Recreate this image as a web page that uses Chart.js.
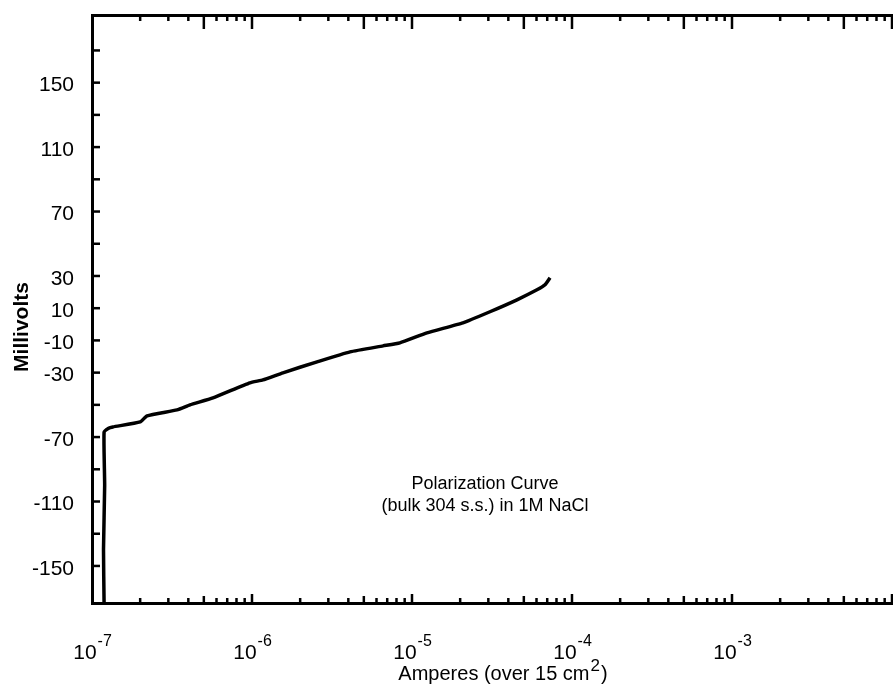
<!DOCTYPE html>
<html>
<head>
<meta charset="utf-8">
<script src="https://cdn.jsdelivr.net/npm/chart.js@4.4.1/dist/chart.umd.min.js"></script>
<style>
  html, body { margin: 0; padding: 0; background: #fff; overflow: hidden; }
  #wrap { width: 893px; height: 686px; position: relative; }
</style>
</head>
<body>
<div id="wrap"><canvas id="polChart"></canvas></div>
<script>
// polarization curve
var currentAmps = [1.19e-7, 1.18e-7, 1.20e-7, 1.19e-7, 1.27e-7, 1.35e-7, 2.0e-7, 2.21e-7, 3.4e-7, 4.1e-7, 5.7e-7,
                   9.7e-7, 1.17e-6, 1.56e-6, 2.55e-6, 4.1e-6, 6.6e-6, 8.4e-6, 1.24e-5, 2.08e-5, 3.07e-5,
                   4.53e-5, 6.04e-5, 6.78e-5, 7.29e-5];
var potentialMv = [-173, -140, -100, -67, -64.5, -63.7, -60.6, -56.8, -53.1, -50, -45.7,
                   -36.3, -34.5, -30.1, -23.3, -17.1, -13.4, -11.5, -5.3, 0.9, 7.8,
                   15.2, 21.4, 24.5, 28.9];

var decades = [1e-7, 1e-6, 1e-5, 1e-4, 1e-3, 1e-2];
var decadeExps = ['-7', '-6', '-5', '-4', '-3'];
var yTickValues = [170, 150, 130, 110, 90, 70, 50, 30, 10, -10, -30, -50, -70, -90, -110, -130, -150];
var yLabelValues = [150, 110, 70, 30, 10, -10, -30, -70, -110, -150];
var noteLines = ['Polarization Curve', '(bulk 304 s.s.) in 1M NaCl'];
var noteAt = { x: 2.86e-5, y: [-99, -112.5] };

var FONT = '"Liberation Sans", Arial, Helvetica, sans-serif';

function minorTicks() {
    var out = [];
    for (var i = 0; i < decades.length - 1; i++) {
        for (var m = 1; m <= 9; m++) out.push({ v: decades[i] * m, m: m });
    }
    out.push({ v: decades[decades.length - 1], m: 1 });
    return out;
}

function stroke(ctx, x1, y1, x2, y2) {
    ctx.beginPath();
    ctx.moveTo(x1, y1);
    ctx.lineTo(x2, y2);
    ctx.stroke();
}

var paperPlugin = {
    id: 'paper',
    afterDraw: function(chart) {
        var ctx = chart.ctx;
        var xs = chart.scales.x;
        var ys = chart.scales.y;
        var area = chart.chartArea;
        ctx.save();
        ctx.strokeStyle = '#000';
        ctx.fillStyle = '#000';
        ctx.lineWidth = 2.5;
        ctx.lineCap = 'butt';

        // inward ticks on the left
        yTickValues.forEach(function(v) {
            var py = ys.getPixelForValue(v);
            stroke(ctx, area.left, py, area.left + 8, py);
        });

        // inward log ticks, top and bottom
        minorTicks().forEach(function(t) {
            var px = xs.getPixelForValue(t.v);
            if (px < area.left + 2 || px > area.right) return;
            var topLen = (t.m === 1 || t.m === 5) ? 14 : 6;
            var botLen = (t.m === 1) ? 9 : (t.m === 5 ? 7 : 5);
            stroke(ctx, px, area.top, px, area.top + topLen);
            stroke(ctx, px, area.bottom, px, area.bottom - botLen);
        });

        // y labels
        ctx.font = '21px ' + FONT;
        ctx.textAlign = 'right';
        ctx.textBaseline = 'middle';
        yLabelValues.forEach(function(v) {
            ctx.fillText(String(v), area.left - 18, ys.getPixelForValue(v) + 3);
        });

        // x labels with superscripts
        ctx.textBaseline = 'alphabetic';
        ctx.textAlign = 'left';
        decadeExps.forEach(function(e, i) {
            var px = xs.getPixelForValue(decades[i]);
            ctx.font = '21px ' + FONT;
            var w1 = ctx.measureText('10').width;
            ctx.font = '16px ' + FONT;
            var w2 = ctx.measureText(e).width;
            var x0 = px - (w1 + w2) / 2;
            ctx.font = '21px ' + FONT;
            ctx.fillText('10', x0, area.bottom + 56);
            ctx.font = '16px ' + FONT;
            ctx.fillText(e, x0 + w1 + 1, area.bottom + 43);
        });

        // x title
        var t1 = 'Amperes (over 15 cm';
        ctx.font = '20px ' + FONT;
        var a = ctx.measureText(t1).width;
        var c = ctx.measureText(')').width;
        ctx.font = '17px ' + FONT;
        var b = ctx.measureText('2').width;
        var tx = (area.left + area.right) / 2 + 10 - (a + b + c) / 2;
        var ty = area.bottom + 77;
        ctx.font = '20px ' + FONT;
        ctx.fillText(t1, tx, ty);
        ctx.fillText(')', tx + a + b + 2, ty);
        ctx.font = '17px ' + FONT;
        ctx.fillText('2', tx + a + 1, ty - 9);

        // y title
        ctx.save();
        ctx.translate(22, (area.top + area.bottom) / 2 + 18);
        ctx.rotate(-Math.PI / 2);
        ctx.font = 'bold 21px ' + FONT;
        ctx.textAlign = 'center';
        ctx.textBaseline = 'middle';
        ctx.fillText('Millivolts', 0, 0);
        ctx.restore();

        // note inside the plot
        ctx.font = '18px ' + FONT;
        ctx.textAlign = 'center';
        ctx.textBaseline = 'middle';
        noteLines.forEach(function(s, i) {
            ctx.fillText(s, xs.getPixelForValue(noteAt.x), ys.getPixelForValue(noteAt.y[i]));
        });
        ctx.restore();
    }
};

var points = currentAmps.map(function(a, i) { return { x: a, y: potentialMv[i] }; });

new Chart(document.getElementById('polChart'), {
    type: 'line',
    data: {
        datasets: [{
            data: points,
            borderColor: '#000',
            borderWidth: 3.5,
            pointRadius: 0,
            tension: 0.15,
            fill: false,
            xAxisID: 'x',
            yAxisID: 'y'
        }]
    },
    options: {
        responsive: true,
        maintainAspectRatio: false,
        animation: false,
        layout: { padding: { right: 1, left: 0, top: 0, bottom: 0 } },
        plugins: { legend: { display: false }, tooltip: { enabled: false } },
        scales: {
            x: {
                type: 'logarithmic',
                position: 'bottom',
                min: 1e-7,
                max: 1e-2,
                ticks: { display: false },
                grid: { display: true, drawOnChartArea: false, drawTicks: false },
                border: { display: true, color: '#000', width: 3 },
                afterFit: function(s) { s.height = 83; }
            },
            xTop: {
                type: 'logarithmic',
                position: 'top',
                min: 1e-7,
                max: 1e-2,
                ticks: { display: false },
                grid: { display: true, drawOnChartArea: false, drawTicks: false },
                border: { display: true, color: '#000', width: 3 },
                afterFit: function(s) { s.height = 15; }
            },
            y: {
                type: 'linear',
                position: 'left',
                min: -173,
                max: 192,
                ticks: { display: false },
                grid: { display: true, drawOnChartArea: false, drawTicks: false },
                border: { display: true, color: '#000', width: 3 },
                afterFit: function(s) { s.width = 92; }
            }
        }
    },
    plugins: [paperPlugin]
});
</script>
</body>
</html>
